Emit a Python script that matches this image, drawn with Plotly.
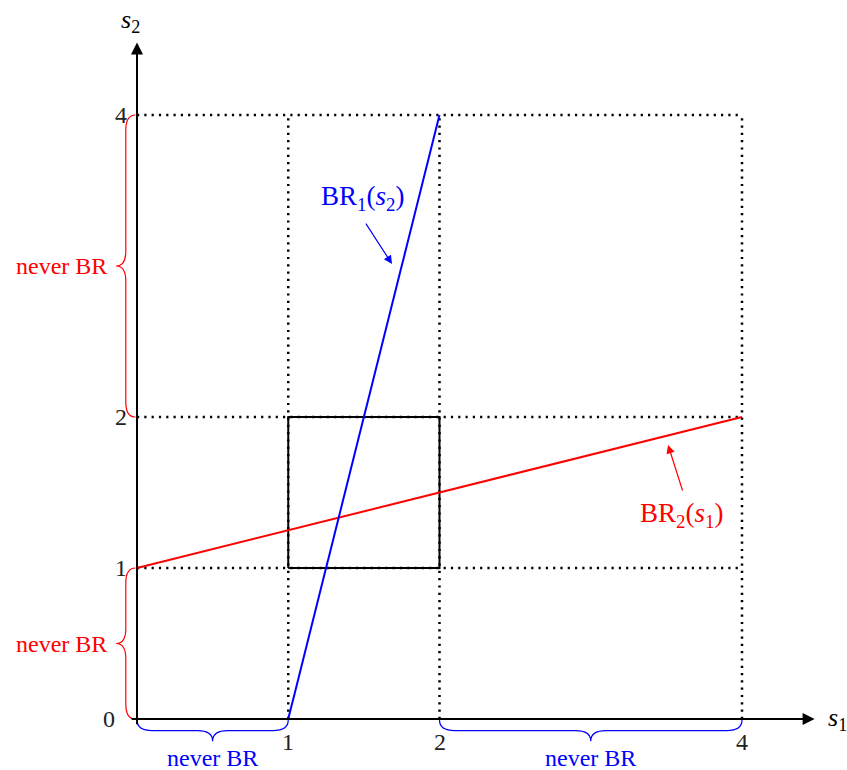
import plotly.graph_objects as go

# ---------------- data ----------------
br1_s1 = [1, 2]          # BR1(s2): s1 as a function of s2
br1_s2 = [0, 4]
br2_s1 = [0, 4]          # BR2(s1)
br2_s2 = [1, 2]
box_s1 = [1, 2, 2, 1, 1]  # surviving strategy box
box_s2 = [1, 1, 2, 2, 1]
grid_levels = [1, 2, 4]   # dotted guide lines
grid_max = 4
x_ticks = [1, 2, 4]
x_tick_text = ["1", "2", "4"]
y_ticks = [0, 1, 2, 4]
y_tick_text = ["0", "1", "2", "4"]
red_braces = [(0, 1), (2, 4)]    # never-BR intervals for s2
blue_braces = [(0, 1), (2, 4)]   # never-BR intervals for s1

RED = "#ff0000"
BLUE = "#0000ff"
FONT = "Liberation Serif"
FS = 24

SX = 151.25
SY = 151.0
X0PX = 137
Y0PX = 719
W = 847
H = 770

fig = go.Figure()

dot = dict(color="black", width=2.5, dash="2.2px,5.1px")
for v in grid_levels:
    fig.add_trace(go.Scatter(x=[0, grid_max], y=[v, v], mode="lines", line=dot,
                             hoverinfo="skip", showlegend=False))
    fig.add_trace(go.Scatter(x=[v, v], y=[0, grid_max], mode="lines", line=dot,
                             hoverinfo="skip", showlegend=False))

fig.add_trace(go.Scatter(x=box_s1, y=box_s2, mode="lines",
                         line=dict(color="black", width=2),
                         hoverinfo="skip", showlegend=False))

fig.add_trace(go.Scatter(x=br2_s1, y=br2_s2, mode="lines",
                         line=dict(color=RED, width=2),
                         hoverinfo="skip", showlegend=False))
fig.add_trace(go.Scatter(x=br1_s1, y=br1_s2, mode="lines",
                         line=dict(color=BLUE, width=2),
                         hoverinfo="skip", showlegend=False))

# axes with arrows
ax_end = 4.48
fig.add_annotation(x=ax_end, y=0, ax=-0.045, ay=0, xref="x", yref="y",
                   axref="x", ayref="y", showarrow=True, arrowhead=2,
                   arrowsize=1.2, arrowwidth=2, arrowcolor="black", text="")
fig.add_annotation(x=0, y=ax_end, ax=0, ay=-0.045, xref="x", yref="y",
                   axref="x", ayref="y", showarrow=True, arrowhead=2,
                   arrowsize=1.2, arrowwidth=2, arrowcolor="black", text="")

fig.add_annotation(x=4.555, y=0.0, text="<i>s</i><sub>1</sub>", showarrow=False,
                   xanchor="left", yanchor="middle",
                   font=dict(family=FONT, size=FS + 2, color="black"))
fig.add_annotation(x=-0.04, y=4.62, text="<i>s</i><sub>2</sub>", showarrow=False,
                   yanchor="middle",
                   font=dict(family=FONT, size=FS + 2, color="black"))

# tick labels
for v, t in zip(x_ticks, x_tick_text):
    fig.add_annotation(x=v, y=-0.05, text=t, showarrow=False, yanchor="top",
                       font=dict(family=FONT, size=FS, color="#222"))
for v, t in zip(y_ticks, y_tick_text):
    fig.add_annotation(x=-0.135 if v == 0 else -0.05, y=v, text=t, showarrow=False,
                       xanchor="right", yanchor="middle",
                       font=dict(family=FONT, size=FS, color="#222"))


def vbrace(y0, y1, xa, d, r):
    ym = (y0 + y1) / 2
    xv = xa - d
    xt = xa - 2 * d
    return (f"M {xa},{y0} Q {xv},{y0} {xv},{y0 + r} L {xv},{ym - r} "
            f"Q {xv},{ym} {xt},{ym} Q {xv},{ym} {xv},{ym + r} "
            f"L {xv},{y1 - r} Q {xv},{y1} {xa},{y1}")


def hbrace(x0, x1, ya, d, r):
    xm = (x0 + x1) / 2
    yv = ya - d
    yt = ya - 2 * d
    return (f"M {x0},{ya} Q {x0},{yv} {x0 + r},{yv} L {xm - r},{yv} "
            f"Q {xm},{yv} {xm},{yt} Q {xm},{yv} {xm + r},{yv} "
            f"L {x1 - r},{yv} Q {x1},{yv} {x1},{ya}")


for a, b in red_braces:
    fig.add_shape(type="path", path=vbrace(a, b, -0.01, 0.064, 0.1),
                  xref="x", yref="y", line=dict(color=RED, width=1.2))
    fig.add_annotation(x=-0.185, y=(a + b) / 2, text="never BR", showarrow=False,
                       xanchor="right", font=dict(family=FONT, size=FS, color=RED))
for a, b in blue_braces:
    fig.add_shape(type="path", path=hbrace(a, b, -0.007, 0.07, 0.1),
                  xref="x", yref="y", line=dict(color=BLUE, width=1.2))
    fig.add_annotation(x=(a + b) / 2, y=-0.26, text="never BR", showarrow=False,
                       yanchor="middle", font=dict(family=FONT, size=FS, color=BLUE))

# BR labels with arrows
fig.add_annotation(x=1.686, y=3.013, ax=1.507, ay=3.291, xref="x", yref="y",
                   axref="x", ayref="y", showarrow=True, arrowhead=2,
                   arrowsize=1.4, arrowwidth=1.2, arrowcolor=BLUE, text="")
fig.add_annotation(x=1.494, y=3.45, text="BR<sub>1</sub>(<i>s</i><sub>2</sub>)",
                   showarrow=False, font=dict(family=FONT, size=FS + 3, color=BLUE))
fig.add_annotation(x=3.511, y=1.815, ax=3.61, ay=1.503, xref="x", yref="y",
                   axref="x", ayref="y", showarrow=True, arrowhead=2,
                   arrowsize=1.4, arrowwidth=1.2, arrowcolor=RED, text="")
fig.add_annotation(x=3.603, y=1.351, text="BR<sub>2</sub>(<i>s</i><sub>1</sub>)",
                   showarrow=False, font=dict(family=FONT, size=FS + 3, color=RED))

fig.update_layout(
    width=W, height=H,
    margin=dict(l=0, r=0, t=0, b=0),
    paper_bgcolor="white", plot_bgcolor="white",
    xaxis=dict(range=[-X0PX / SX, (W - X0PX) / SX], visible=False, fixedrange=True),
    yaxis=dict(range=[(Y0PX - H) / SY, Y0PX / SY], visible=False, fixedrange=True),
    showlegend=False,
)

fig.write_html(
    "out.html",
    config={"displayModeBar": False},
    post_script="document.body.style.margin='0px';document.body.style.overflow='hidden';",
)
